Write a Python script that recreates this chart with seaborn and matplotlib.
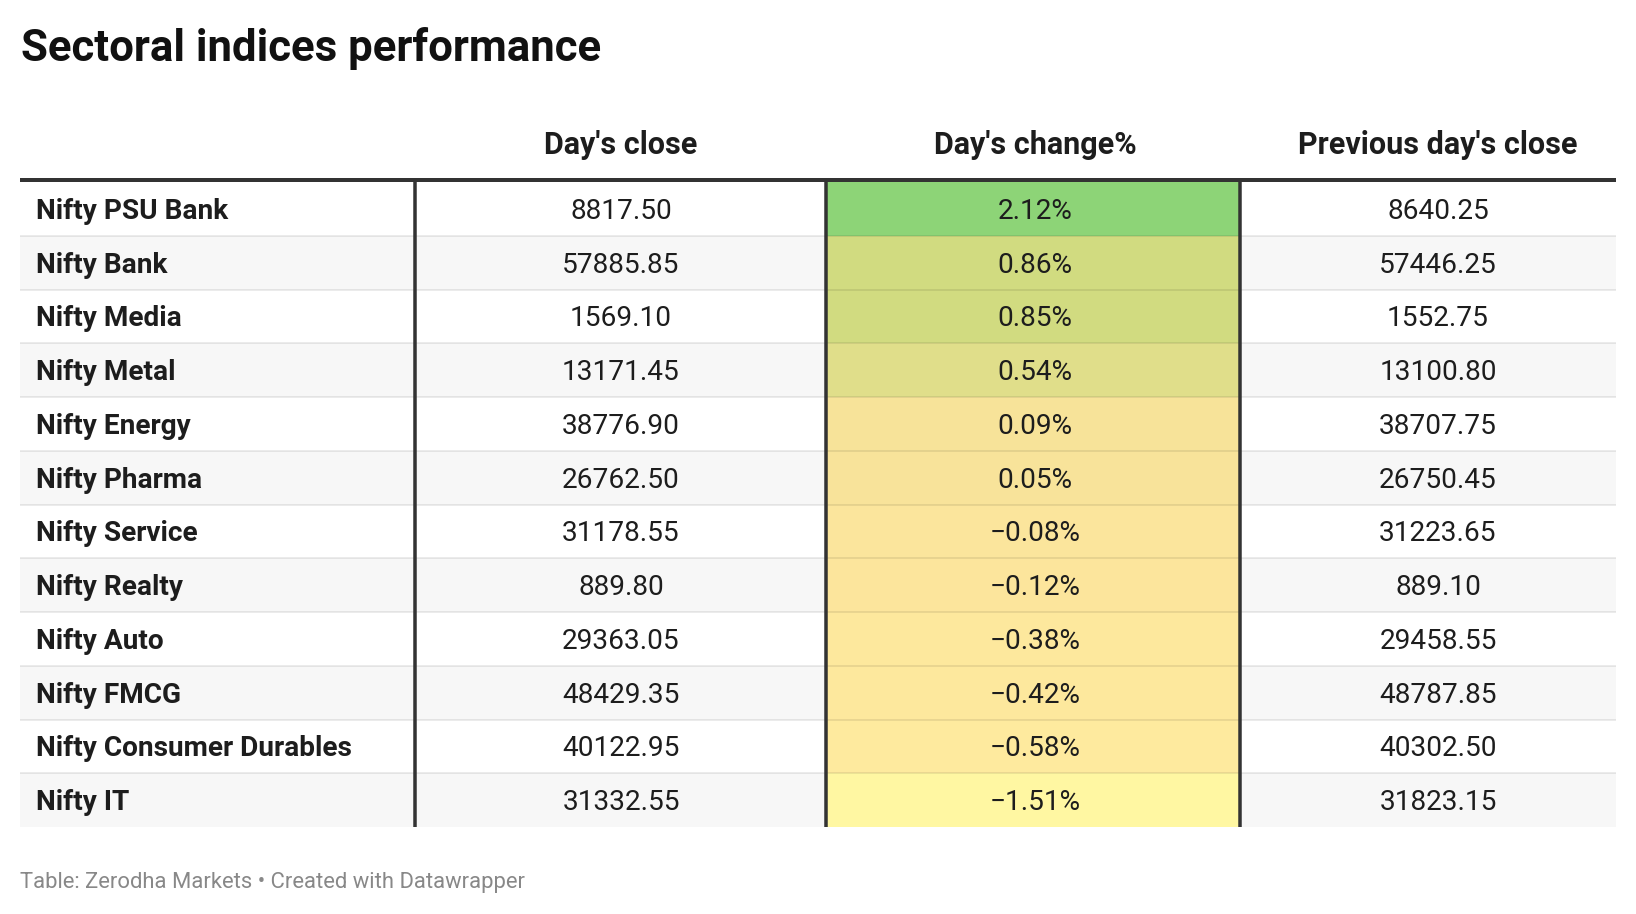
import numpy as np
import pandas as pd
import matplotlib
matplotlib.use("Agg")
import matplotlib.pyplot as plt
import seaborn as sns
from matplotlib.colors import LinearSegmentedColormap

# data
sectors = ["Nifty PSU Bank", "Nifty Bank", "Nifty Media", "Nifty Metal",
           "Nifty Energy", "Nifty Pharma", "Nifty Service", "Nifty Realty",
           "Nifty Auto", "Nifty FMCG", "Nifty Consumer Durables", "Nifty IT"]
day_close = [8817.50, 57885.85, 1569.10, 13171.45, 38776.90, 26762.50,
             31178.55, 889.80, 29363.05, 48429.35, 40122.95, 31332.55]
day_change = [2.12, 0.86, 0.85, 0.54, 0.09, 0.05, -0.08, -0.12, -0.38,
              -0.42, -0.58, -1.51]
prev_close = [8640.25, 57446.25, 1552.75, 13100.80, 38707.75, 26750.45,
              31223.65, 889.10, 29458.55, 48787.85, 40302.50, 31823.15]
headers = ["Day's close", "Day's change%", "Previous day's close"]

df = pd.DataFrame({"sector": sectors, "close": day_close,
                   "change": day_change, "prev": prev_close})

sns.set_theme(style="white")
plt.rcParams["font.family"] = ["Roboto", "DejaVu Sans"]

W, H = 1636, 914
fig = plt.figure(figsize=(W / 100, H / 100), dpi=100)
fig.patch.set_facecolor("white")

# layout in pixels
top, bottom = 182, 827
left, right = 20, 1616
vlines = [415, 826, 1240]
centers = [621, 1035, 1438]
n = len(df)
rh = (bottom - top) / n
px = 0.72  # pixel -> points


def fig_box(x0, y0, x1, y1):
    return [x0 / W, 1 - y1 / H, (x1 - x0) / W, (y1 - y0) / H]


# background stripes
ax_bg = fig.add_axes([0, 0, 1, 1], zorder=0)
ax_bg.set_xlim(0, W)
ax_bg.set_ylim(H, 0)
ax_bg.axis("off")
rows = np.arange(n)
ax_bg.barh(top + (rows[1::2] + 0.5) * rh, right - left, height=rh, left=left,
           color="#f7f7f7", linewidth=0)

# colour scale column
stops = [(-1.51, "#fff7a2"), (-0.58, "#feea9e"), (0.0, "#fbe49c"),
         (0.54, "#e0de8a"), (0.86, "#d1db80"), (2.12, "#8dd477")]
vmin, vmax = min(day_change), max(day_change)
cmap = LinearSegmentedColormap.from_list(
    "dw", [((v - vmin) / (vmax - vmin), c) for v, c in stops])
ax_hm = fig.add_axes(fig_box(vlines[1], top, vlines[2], bottom), zorder=1)
sns.heatmap(df[["change"]].to_numpy(), ax=ax_hm, cmap=cmap, vmin=vmin,
            vmax=vmax, cbar=False, xticklabels=False, yticklabels=False)
ax_hm.axis("off")

# overlay: rules and text
ax = fig.add_axes([0, 0, 1, 1], zorder=2)
ax.set_xlim(0, W)
ax.set_ylim(H, 0)
ax.axis("off")
ax.patch.set_alpha(0)

for i in range(1, n):
    ax.plot([left, right], [top + i * rh] * 2, color="black", alpha=0.08,
            lw=2 * px, solid_capstyle="butt")
for x in vlines:
    ax.plot([x, x], [top, bottom], color="#333333", lw=3.5 * px,
            solid_capstyle="butt")
ax.plot([left, right], [180, 180], color="#333333", lw=4 * px,
        solid_capstyle="butt")

txt = "#1d1d1d"
ax.text(21, 61, "Sectoral indices performance", fontsize=31.5,
        fontweight="bold", color="#111111", va="baseline", ha="left")
for c, h in zip(centers, headers):
    ax.text(c, 154, h, fontsize=22, fontweight="bold", color=txt,
            ha="center", va="baseline")

for i, r in df.iterrows():
    yb = top + (i + 0.5) * rh + 10
    ax.text(36, yb, r["sector"], fontsize=20.2, fontweight="bold", color=txt,
            ha="left", va="baseline")
    ax.text(centers[0], yb, f"{r['close']:.2f}", fontsize=20.2, color=txt,
            ha="center", va="baseline")
    ax.text(centers[1], yb, f"{r['change']:.2f}%".replace("-", "\u2212"),
            fontsize=20.2, color=txt, ha="center", va="baseline")
    ax.text(centers[2], yb, f"{r['prev']:.2f}", fontsize=20.2, color=txt,
            ha="center", va="baseline")

ax.text(20, 888, "Table: Zerodha Markets \u2022 Created with Datawrapper",
        fontsize=15.8, color="#888888", ha="left", va="baseline")

fig.savefig("out.png", dpi=100, facecolor="white")
